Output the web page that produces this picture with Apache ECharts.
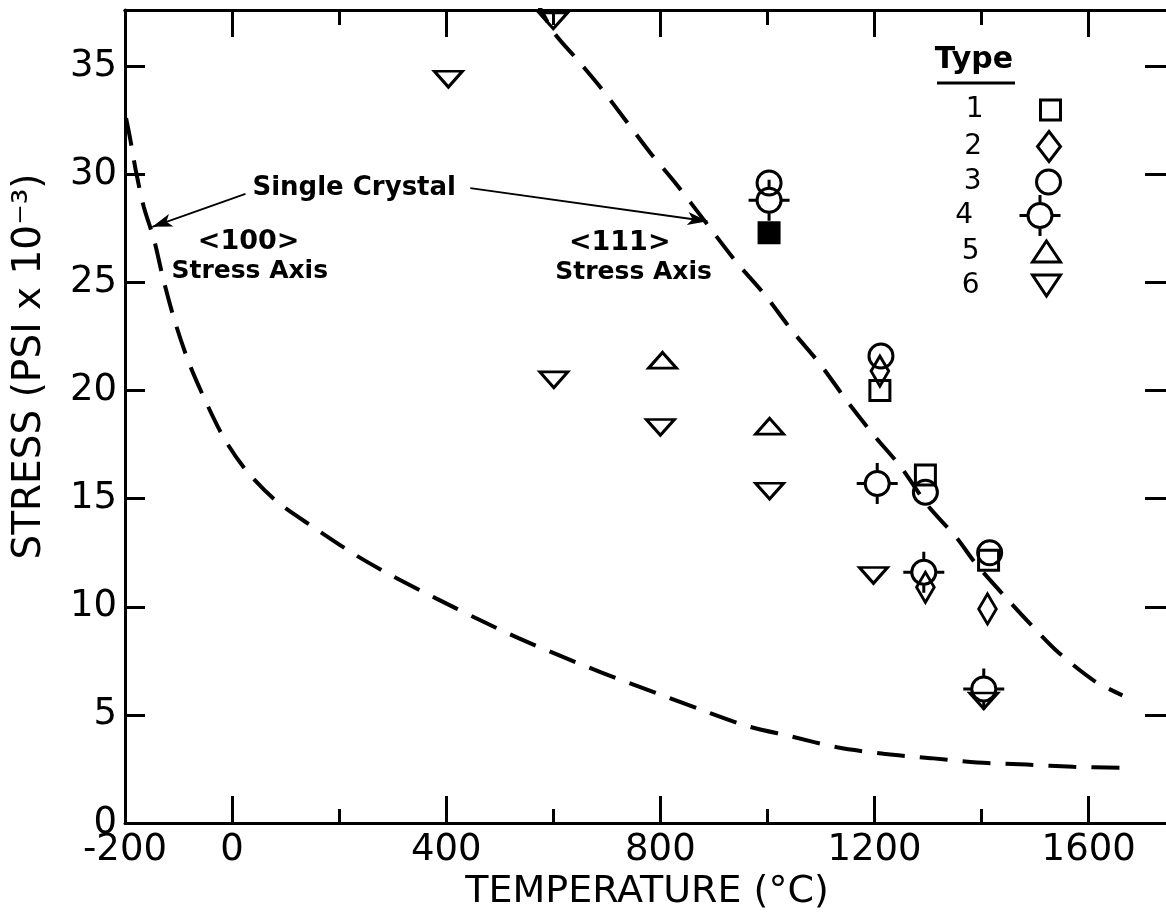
<!DOCTYPE html>
<html><head><meta charset="utf-8">
<script src="https://cdn.jsdelivr.net/npm/echarts@6/dist/echarts.min.js"></script>
<style>html,body{margin:0;padding:0;background:#fff}#c{width:1166px;height:913px}</style>
</head><body><div id="c"></div>
<script>
// ---- axis ticks / labels ----
const xTickLabels = [-200, 0, 400, 800, 1200, 1600];
const xMajorTicks = [0, 400, 800, 1200, 1600];
const xMinorTicks = [200, 600, 1000, 1400];
const yTickLabels = [0, 5, 10, 15, 20, 25, 30, 35];
const yTicks = [5, 10, 15, 20, 25, 30, 35];

// ---- single crystal curves [temperature, stress] ----
const curve100 = [[-198,32.6],[-190,31.6],[-180,30.2],[-165,28.5],[-146,27.0],[-128,25.1],[-107,23.21],[-81,21.31],[-53,19.7],[-14,17.75],[29,16.23],[85,14.84],[152,13.68],[231,12.39],[300,11.42],[380,10.4],[455,9.48],[535,8.55],[619,7.67],[688,6.98],[793,6.0],[880,5.2],[960,4.5],[1045,4.0],[1130,3.5],[1217,3.2],[1305,3.0],[1392,2.8],[1484,2.7],[1571,2.6],[1660,2.55]];
const curve111 = [[565,38.2],[600,36.6],[645,35.3],[692,33.9],[735,32.5],[781,31.0],[828,29.6],[884,27.8],[940,26.0],[996,24.4],[1045,22.8],[1099,21.2],[1149,19.5],[1200,17.9],[1248,16.5],[1299,14.7],[1353,13.2],[1389,12.0],[1450,10.3],[1495,9.1],[1543,7.9],[1609,6.6],[1663,5.9]];

// ---- data points by specimen type ----
const type1 = [[1210,20.0],[1295,16.1],[1413,12.15]];
const type1Filled = [[1003,27.3]];
const type2 = [[1210,20.9],[1295,10.9],[1411,9.9]];
const type3 = [[1003,29.6],[1212,21.6],[1295,15.3],[1415,12.5]];
const type4 = [[1003,28.8],[1205,15.7],[1292,11.6],[1404,6.2]];
const type5 = [[804,21.4],[1004,18.35]];
const type6 = [[404,34.4],[600,37.1],[601,20.5],[800,18.3],[1004,15.35],[1198,11.45],[1404,5.65]];

const FONT = 'DejaVu Sans';
const SYM = {
  square: 'path://M0,0 L20,0 L20,20 L0,20 Z',
  diamond: 'path://M11.5,0 L23,15 L11.5,30 L0,15 Z',
  circle: 'path://M0,12 C0,5.37 5.37,0 12,0 C18.63,0 24,5.37 24,12 C24,18.63 18.63,24 12,24 C5.37,24 0,18.63 0,12 Z',
  cross: 'path://M8.5,20.5 C8.5,13.87 13.87,8.5 20.5,8.5 C27.13,8.5 32.5,13.87 32.5,20.5 C32.5,27.13 27.13,32.5 20.5,32.5 C13.87,32.5 8.5,27.13 8.5,20.5 Z M0,20.5 L8.5,20.5 M32.5,20.5 L41,20.5 M20.5,0 L20.5,8.5 M20.5,32.5 L20.5,41',
  up: 'path://M14,0 L28,21 L0,21 Z',
  down: 'path://M0,0 L28,0 L14,21 Z'
};
const hollow = {color: 'rgba(0,0,0,0)', borderColor: '#000', borderWidth: 3, opacity: 1};

const chart = echarts.init(document.getElementById('c'), null, {renderer: 'canvas'});

const X_MIN = -200, X_MAX = 1750, Y_MIN = 0, Y_MAX = 37.6;
const plain = v => String(v);
function xAx(pos, ticks, len, labels, name) {
  return {
    type: 'value', position: pos, min: X_MIN, max: X_MAX,
    splitLine: {show: false},
    axisLine: {show: !!labels || pos === 'top', onZero: false, lineStyle: {color: '#000', width: 3}},
    axisTick: {show: true, inside: true, length: len, customValues: ticks, lineStyle: {color: '#000', width: 3}},
    axisLabel: labels ? {show: true, customValues: labels, formatter: plain, color: '#000', fontSize: 37, fontFamily: FONT, margin: 9} : {show: false},
    name: name || '', nameLocation: 'middle', nameGap: 50, nameMoveOverlap: false,
    nameTextStyle: {color: '#000', fontSize: 38, fontFamily: FONT}
  };
}

const scatterBase = {type: 'scatter', symbolKeepAspect: true, silent: true, z: 5, itemStyle: hollow};
const series = [
  {type: 'line', name: 'c100', data: curve100, showSymbol: false, symbol: 'none', smooth: 0.3, silent: true,
   lineStyle: {color: '#000', width: 4, type: [28, 15], opacity: 1},
   markLine: {silent: true, symbol: ['none', 'arrow'], symbolSize: [10, 20], label: {show: false},
     lineStyle: {color: '#000', width: 1.8, type: 'solid', opacity: 1},
     data: [[{coord: [25, 29.1]}, {coord: [-149, 27.57]}], [{coord: [445, 29.36]}, {coord: [888, 27.83]}]]}},
  {type: 'line', name: 'c111', data: curve111, showSymbol: false, symbol: 'none', smooth: 0.3, silent: true,
   lineStyle: {color: '#000', width: 4, type: [28, 15], opacity: 1}},
  Object.assign({}, scatterBase, {name: '1', data: type1, symbol: SYM.square, symbolSize: [20, 20]}),
  Object.assign({}, scatterBase, {name: '1 filled', data: type1Filled, symbol: SYM.square, symbolSize: [21, 21], itemStyle: {color: '#000', borderColor: '#000', borderWidth: 2, opacity: 1}}),
  Object.assign({}, scatterBase, {name: '2', data: type2, symbol: SYM.diamond, symbolSize: [23, 30]}),
  Object.assign({}, scatterBase, {name: '3', data: type3, symbol: SYM.circle, symbolSize: [24, 24]}),
  Object.assign({}, scatterBase, {name: '4', data: type4, symbol: SYM.cross, symbolSize: [41, 41]}),
  Object.assign({}, scatterBase, {name: '5', data: type5, symbol: SYM.up, symbolSize: [28, 21]}),
  Object.assign({}, scatterBase, {name: '6', data: type6, symbol: SYM.down, symbolSize: [28, 21]})
];

const legendRows = [106, 145, 180, 214, 248, 282];
const legendHeights = [20, 30, 24, 41, 21, 21];
const legends = ['1', '2', '3', '4', '5', '6'].map((n, i) => ({
  data: [n], orient: 'vertical', right: 104, top: legendRows[i] - legendHeights[i] / 2,
  itemWidth: 124, itemHeight: legendHeights[i], align: 'right', padding: 0,
  selectedMode: false, symbolKeepAspect: true,
  itemStyle: {color: 'rgba(0,0,0,0)', borderColor: '#000', borderWidth: 3, opacity: 1},
  textStyle: {color: '#000', fontSize: 28, fontFamily: FONT}
}));

chart.setOption({
  animation: false,
  backgroundColor: '#fff',
  grid: {left: 125, right: -3, top: 10, bottom: 90, containLabel: false, outerBoundsMode: 'none'},
  xAxis: [
    xAx('bottom', xMajorTicks, 27, xTickLabels, 'TEMPERATURE (°C)'),
    xAx('bottom', xMinorTicks, 14, null),
    xAx('top', xMajorTicks, 27, null),
    xAx('top', xMinorTicks, 15, null)
  ],
  yAxis: [
    {type: 'value', position: 'left', min: Y_MIN, max: Y_MAX, splitLine: {show: false},
     axisLine: {show: true, onZero: false, lineStyle: {color: '#000', width: 3}},
     axisTick: {show: true, inside: true, length: 20, customValues: yTicks, lineStyle: {color: '#000', width: 3}},
     axisLabel: {show: true, customValues: yTickLabels, formatter: plain, color: '#000', fontSize: 37, fontFamily: FONT, margin: 8},
     name: 'STRESS (PSI x 10⁻³)', nameLocation: 'middle', nameGap: 76, nameMoveOverlap: false,
     nameTextStyle: {color: '#000', fontSize: 39, fontFamily: FONT, padding: [0, 0, 0, 100]}},
    {type: 'value', position: 'right', min: Y_MIN, max: Y_MAX, splitLine: {show: false},
     axisLine: {show: true, onZero: false, lineStyle: {color: '#000', width: 3}},
     axisTick: {show: true, inside: true, length: 24, customValues: yTicks, lineStyle: {color: '#000', width: 3}},
     axisLabel: {show: false}}
  ],
  legend: legends,
  series: series
});

// annotations placed in data coordinates
const notes = [
  {text: 'Single Crystal', at: [38, 29.36], align: 'left', size: 26},
  {text: '<100>', at: [31, 26.86], align: 'center', size: 27},
  {text: 'Stress Axis', at: [33, 25.52], align: 'center', size: 25},
  {text: '<111>', at: [724, 26.81], align: 'center', size: 27},
  {text: 'Stress Axis', at: [750, 25.47], align: 'center', size: 25}
];
const graphics = notes.map(n => {
  const p = chart.convertToPixel({gridIndex: 0}, n.at);
  return {type: 'text', x: p[0], y: p[1], silent: true,
    style: {text: n.text, fontSize: n.size, fontWeight: 'bold', fontFamily: FONT, fill: '#000', align: n.align, verticalAlign: 'middle'}};
});
graphics.push({type: 'text', x: 974, y: 60, silent: true,
  style: {text: 'Type', fontSize: 30, fontWeight: 'bold', fontFamily: FONT, fill: '#000', align: 'center', verticalAlign: 'middle'}});
graphics.push({type: 'line', silent: true, shape: {x1: 937, y1: 83, x2: 1015, y2: 83}, style: {stroke: '#000', lineWidth: 3}});
chart.setOption({graphic: graphics});
</script>
</body></html>
